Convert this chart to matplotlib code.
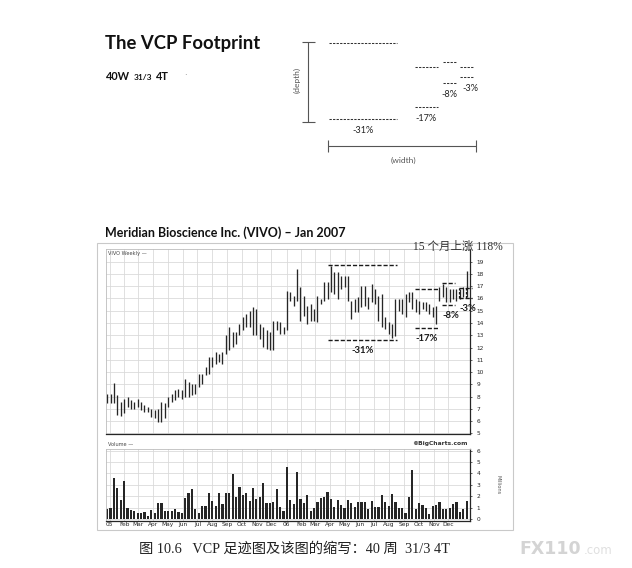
import matplotlib
matplotlib.use('Agg')
import matplotlib.pyplot as plt
import numpy as np
from matplotlib.patches import Rectangle

# ---------------- data ----------------
highs = [8.24, 8.24, 9.14, 8.11, 7.56, 7.83, 7.97, 7.70, 7.56, 7.83,
         7.56, 7.29, 7.16, 7.02, 6.89, 7.02, 7.56, 7.48, 7.97, 8.24,
         8.51, 8.65, 8.51, 9.46, 9.19, 9.05, 9.05, 9.87, 9.87, 10.41,
         11.22, 11.22, 11.63, 11.49, 11.63, 12.98, 13.66, 13.25, 13.25, 13.93,
         14.47, 14.75, 15.02, 15.29, 15.15, 13.93, 13.66, 13.39, 13.25, 14.20,
         14.20, 14.07, 13.66, 16.64, 16.51, 16.24, 18.40, 16.91, 16.24, 15.42,
         15.56, 15.15, 16.24, 15.96, 17.32, 17.32, 18.67, 18.13, 18.13, 17.86,
         17.86, 17.86, 15.83, 15.96, 16.10, 17.05, 17.05, 16.10, 17.18, 16.78,
         16.24, 16.37, 14.47, 14.07, 13.93, 15.96, 15.96, 15.96, 16.37, 16.51,
         16.51, 15.96, 15.83, 15.69, 15.69, 15.56, 15.29, 15.42, 16.91, 17.18,
         16.91, 16.78, 16.78, 16.78, 16.78, 16.91, 18.27]
lows = [7.48, 7.48, 7.48, 6.48, 6.40, 6.62, 7.16, 7.02, 7.02, 7.16,
        6.89, 6.75, 6.75, 6.34, 6.21, 5.94, 5.94, 6.21, 7.16, 7.56,
        7.70, 7.97, 7.83, 7.97, 7.97, 8.11, 8.24, 8.78, 9.05, 9.73,
        9.87, 10.41, 10.68, 10.82, 10.68, 11.49, 11.76, 12.04, 12.31, 12.98,
        13.39, 13.66, 13.66, 12.98, 12.98, 12.71, 12.04, 11.90, 11.76, 11.76,
        13.39, 13.12, 13.12, 13.39, 15.83, 15.42, 15.83, 14.20, 14.61, 13.93,
        14.20, 14.20, 14.07, 15.56, 15.83, 15.96, 16.51, 16.37, 15.96, 16.78,
        16.91, 15.83, 14.34, 14.88, 14.88, 15.29, 15.42, 15.15, 15.69, 15.56,
        14.20, 13.66, 13.53, 13.12, 12.75, 12.90, 15.02, 14.75, 14.47, 15.69,
        15.15, 14.88, 14.75, 15.15, 15.02, 14.75, 14.47, 13.93, 15.83, 16.10,
        15.69, 15.69, 15.96, 15.83, 15.96, 16.10, 16.10]
volume = [0.88, 0.94, 3.57, 2.75, 1.67, 3.33, 0.94, 0.79, 0.70, 0.50,
          0.55, 0.58, 0.29, 0.79, 0.50, 1.37, 1.37, 0.70, 0.70, 0.73,
          0.85, 0.64, 0.50, 1.87, 2.31, 2.63, 0.85, 0.50, 1.14, 1.14,
          2.31, 1.58, 1.14, 2.31, 1.35, 2.31, 2.25, 3.92, 1.90, 2.84,
          2.10, 2.31, 1.58, 2.75, 1.73, 1.93, 3.13, 1.43, 1.37, 1.52,
          2.60, 1.08, 0.73, 4.59, 1.67, 1.32, 4.15, 1.75, 1.37, 2.10,
          0.73, 1.00, 1.46, 1.87, 1.90, 2.40, 1.73, 1.08, 1.67, 1.23,
          1.00, 1.64, 1.37, 1.05, 1.52, 1.52, 1.52, 0.88, 1.58, 1.02,
          1.02, 2.10, 1.46, 1.14, 2.16, 1.52, 0.94, 0.94, 0.55, 1.96,
          4.30, 0.88, 1.37, 1.23, 1.00, 0.44, 1.14, 1.23, 1.46, 0.88,
          0.88, 1.00, 1.29, 1.52, 0.64, 0.88, 1.58]

month_pos = [0.7, 5.1, 9.1, 13.6, 17.9, 22.3, 26.6, 31.0, 35.4, 39.7, 44.1, 48.4,
             52.9, 57.3, 61.3, 65.7, 70.0, 74.4, 78.7, 83.1, 87.6, 91.9, 96.3, 100.6]
month_lbl = ['05', 'Feb', 'Mar', 'Apr', 'May', 'Jun', 'Jul', 'Aug', 'Sep', 'Oct', 'Nov', 'Dec',
             '06', 'Feb', 'Mar', 'Apr', 'May', 'Jun', 'Jul', 'Aug', 'Sep', 'Oct', 'Nov', 'Dec']
price_ticks = list(range(5, 20))
vol_ticks = list(range(0, 7))

# contractions marked on the chart
contr_lbl = ['-31%', '-17%', '-8%', '-3%']
contr_top = [18.73, 16.78, 17.24, 16.83]
contr_bot = [12.63, 13.60, 15.48, 16.02]
contr_x0 = [65.1, 90.8, 98.8, 103.8]
contr_x1 = [85.5, 97.7, 102.6, 107.5]

# schematic footprint (x in weeks, y relative level)
diag_top = [100.0, 90.2, 92.5, 90.4]
diag_bot = [69.0, 73.8, 83.6, 86.1]
diag_x0 = [0.2, 23.5, 31.0, 35.8]
diag_x1 = [18.7, 29.8, 34.8, 39.4]
diag_weeks = 40

# ---------------- figure ----------------
W, H = 632, 568
fig = plt.figure(figsize=(W / 100, H / 100), dpi=100)
fig.patch.set_facecolor('white')


def rect(x0, y0, x1, y1):
    return [x0 / W, 1 - y1 / H, (x1 - x0) / W, (y1 - y0) / H]


ink = '#262626'
grid_c = '#dadada'
TF = 'DejaVu Sans'
HEAD = 'Lato'
CJK = ['Liberation Serif', 'Noto Sans CJK SC']

# overlay for free text
ov = fig.add_axes([0, 0, 1, 1], zorder=5)
ov.set_xlim(0, W)
ov.set_ylim(H, 0)
ov.axis('off')
ov.patch.set_alpha(0)

ov.text(105, 44, 'The VCP Footprint', fontsize=13.3, fontweight='bold', family=HEAD,
        color='#111111', va='center', ha='left')
ov.text(106, 77, '40W', fontsize=7.8, fontweight='bold', family=HEAD, color='#111111', va='center')
ov.text(134, 78, '31/3', fontsize=6.0, fontweight='bold', family=HEAD, color='#111111', va='center')
ov.text(156, 77, '4T', fontsize=7.8, fontweight='bold', family=HEAD, color='#111111', va='center')
ov.text(184, 76, '·', fontsize=6, color='#777777', va='center')

ov.text(105, 233, 'Meridian Bioscience Inc. (VIVO) \u2013 Jan 2007', fontsize=9.0,
        fontweight='bold', family=HEAD, color='#111111', va='center', ha='left')

# outer frame of the chart screenshot
ov.add_patch(Rectangle((97, 243), 416, 287, fill=False, ec='#c9c9c9', lw=0.8))

ov.text(108, 253, 'VIVO Weekly \u2014', fontsize=3.6, family=TF, color='#444444', va='center')
ov.text(108, 444, 'Volume \u2014', fontsize=3.6, family=TF, color='#444444', va='center')
ov.text(468, 443, '\u00a9BigCharts.com', fontsize=4.3, fontweight='bold', family=TF,
        color='#333333', va='center', ha='right')
ov.text(498, 485, 'Millions', fontsize=3.6, family=TF, color='#555555', va='center',
        ha='center', rotation=-90)
ov.text(413, 247, '15 个月上涨 118%', fontsize=8.3, family=CJK, color='#333333',
        va='center', ha='left')

ov.text(139, 549, '图 10.6   VCP 足迹图及该图的缩写：40 周  31/3 4T', fontsize=10.3,
        family=CJK, color='#222222', va='center', ha='left')
ov.text(519, 549, 'FX110', fontsize=12.5, fontweight='bold', family=TF, color='#d4d4d4',
        va='center', ha='left')
ov.text(584, 551, '.com', fontsize=8.5, family=TF, color='#e0e0e0', va='center', ha='left')

# ---------------- schematic ----------------
ad = fig.add_axes(rect(280, 30, 500, 170), zorder=4)
ad.set_xlim(-13.1, 46.6)
ad.set_ylim(48.07, 105.45)
ad.axis('off')
dash = (0, (2.2, 1.2))
for lbl, t, b, x0, x1 in zip(contr_lbl, diag_top, diag_bot, diag_x0, diag_x1):
    ad.hlines([t, b], x0, x1, colors='#333333', linestyles=dash, lw=0.75)
    dx = 0.9 if lbl == '-3%' else 0.0
    ad.text((x0 + x1) / 2 + dx, b - 4.6, lbl, fontsize=6.6, family=HEAD, color='#222222',
            ha='center', va='center')
# depth bar
ad.vlines(-5.4, diag_bot[0] - 1.1, diag_top[0] + 0.7, colors='#555555', lw=0.8)
ad.hlines([diag_bot[0] - 1.1, diag_top[0] + 0.7], -7.2, -3.5, colors='#555555', lw=0.8)
ad.text(-8.4, 85, '(depth)', fontsize=6.0, family=HEAD, color='#555555', rotation=90,
        ha='center', va='center')
# width bar
ad.hlines(57.9, 0, diag_weeks, colors='#555555', lw=0.8)
ad.vlines([0, diag_weeks], 55.4, 60.4, colors='#555555', lw=0.8)
ad.text(diag_weeks / 2 + 0.3, 52.2, '(width)', fontsize=6.0, family=HEAD, color='#555555',
        ha='center', va='center')

# ---------------- price panel ----------------
idx = np.arange(len(highs))
ax = fig.add_axes(rect(105.5, 249, 470, 434), zorder=2)
ax.vlines(idx, lows, highs, color=ink, lw=0.95)
ax.set_xlim(-0.5, 107.0)
ax.set_ylim(4.94, 20.04)
ax.set_yticks(price_ticks)
ax.set_xticks(month_pos)
ax.set_xticklabels([])
ax.yaxis.tick_right()
ax.tick_params(axis='y', labelsize=4.2, length=1.5, width=0.5, pad=3, colors=ink)
ax.tick_params(axis='x', length=0)
ax.grid(True, color=grid_c, lw=0.6)
ax.set_axisbelow(True)
for s in ['left', 'top']:
    ax.spines[s].set_color('#bdbdbd')
    ax.spines[s].set_linewidth(0.6)
for s in ['right', 'bottom']:
    ax.spines[s].set_color(ink)
    ax.spines[s].set_linewidth(0.9)
for lbl, t, b, x0, x1 in zip(contr_lbl, contr_top, contr_bot, contr_x0, contr_x1):
    ax.hlines([t, b], x0, x1, colors='#1a1a1a', linestyles=(0, (3, 1.4)), lw=1.0,
              clip_on=False, zorder=4)
    dx = 0.7 if lbl in ('-8%', '-3%') else 0.0
    ax.text((x0 + x1) / 2 + dx, b - 0.85, lbl, fontsize=6.8, fontweight='bold', family=HEAD,
            color='#1a1a1a', ha='center', va='center', clip_on=False, zorder=5)
ax.vlines([contr_x0[3], 105.9], contr_bot[3], contr_top[3], colors='#1a1a1a',
          linestyles=(0, (2, 1.2)), lw=0.9, zorder=4)

# ---------------- volume panel ----------------
axv = fig.add_axes(rect(105.5, 449, 470, 520.5), zorder=2)
axv.bar(idx, volume, width=0.65, color=ink)
axv.set_xlim(-0.5, 107.0)
axv.set_ylim(-0.13, 6.15)
axv.set_yticks(vol_ticks)
axv.yaxis.tick_right()
axv.set_xticks(month_pos)
axv.set_xticklabels(month_lbl)
axv.tick_params(axis='y', labelsize=4.2, length=1.5, width=0.5, pad=3, colors=ink)
axv.tick_params(axis='x', labelsize=4.2, length=0, pad=1.2, colors=ink)
axv.grid(True, color=grid_c, lw=0.6)
axv.set_axisbelow(True)
for s in ['left', 'top']:
    axv.spines[s].set_color('#bdbdbd')
    axv.spines[s].set_linewidth(0.6)
for s in ['right', 'bottom']:
    axv.spines[s].set_color(ink)
    axv.spines[s].set_linewidth(0.9)

fig.savefig('out.png', dpi=100, facecolor='white')
